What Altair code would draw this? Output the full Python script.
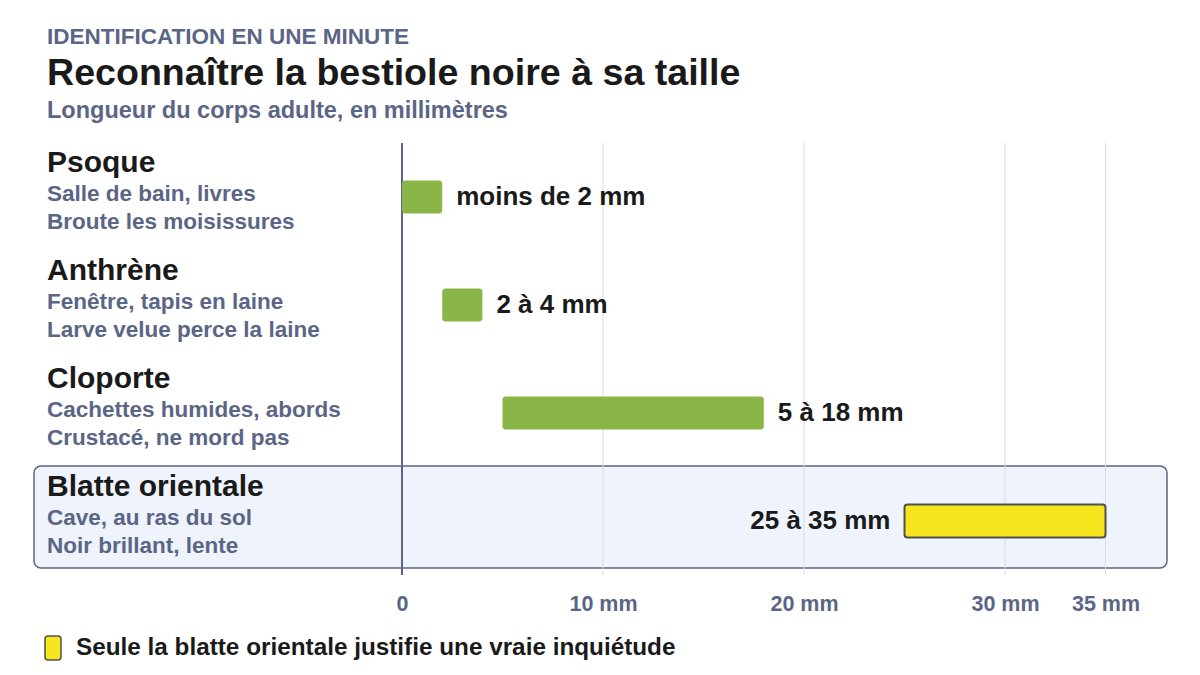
import altair as alt
import pandas as pd

names = ["Psoque", "Anthrène", "Cloporte", "Blatte orientale"]
habitats = ["Salle de bain, livres", "Fenêtre, tapis en laine", "Cachettes humides, abords", "Cave, au ras du sol"]
notes = ["Broute les moisissures", "Larve velue perce la laine", "Crustacé, ne mord pas", "Noir brillant, lente"]
min_mm = [0, 2, 5, 25]
max_mm = [2, 4, 18, 35]
range_labels = ["moins de 2 mm", "2 à 4 mm", "5 à 18 mm", "25 à 35 mm"]
alert = [False, False, False, True]
tick_values = [0, 10, 20, 30, 35]
grid_values = [10, 20, 30, 35]

kicker = "IDENTIFICATION EN UNE MINUTE"
title = "Reconnaître la bestiole noire à sa taille"
subtitle = "Longueur du corps adulte, en millimètres"
legend_text = "Seule la blatte orientale justifie une vraie inquiétude"

FONT = "Liberation Sans, Arial, Helvetica, sans-serif"
GRAY = "#5b6585"
INK = "#1a1a1a"
GREEN = "#8ab648"
YELLOW = "#f6e61d"

W, H = 765, 432
DMAX = W / 20.1

df = pd.DataFrame({
    "name": names, "habitat": habitats, "note": notes,
    "lo": min_mm, "hi": max_mm, "label": range_labels, "alert": alert,
})
grid_df = pd.DataFrame({"v": grid_values})
zero_df = pd.DataFrame({"v": [0]})
one = pd.DataFrame({"k": [0]})

xs = alt.Scale(domain=[0, DMAX], nice=False, zero=False)
ys = alt.Scale(domain=names, paddingInner=0, paddingOuter=0)
xaxis = alt.Axis(
    values=tick_values, labelExpr="datum.value == 0 ? '0' : datum.value + ' mm'",
    grid=False, domain=False, ticks=False, title=None,
    labelFont=FONT, labelFontSize=21.5, labelFontWeight="bold", labelColor=GRAY,
    labelPadding=18, labelFlush=False)


def xq(field):
    return alt.X(field, type="quantitative", scale=xs, axis=xaxis)


Y = alt.Y("name:N", scale=ys, axis=None, sort=names)

base = alt.Chart(df)

highlight = alt.Chart(one).mark_rect(
    fill="#eef3fc", stroke=GRAY, strokeWidth=1.5, cornerRadius=7
).encode(x=alt.value(-368), x2=alt.value(W), y=alt.value(323), y2=alt.value(425))

grid = alt.Chart(grid_df).mark_rule(color="#dcdcdc", strokeWidth=1).encode(
    x=xq("v"), y=alt.value(0), y2=alt.value(H))

zero = alt.Chart(zero_df).mark_rule(color=GRAY, strokeWidth=2).encode(
    x=xq("v"), y=alt.value(0), y2=alt.value(H))

bars = base.mark_bar(size=33, cornerRadius=3).encode(
    x=xq("lo"), x2="hi:Q", y=Y,
    color=alt.Color("alert:N", scale=alt.Scale(domain=[False, True], range=[GREEN, YELLOW]), legend=None),
    stroke=alt.Color("alert:N", scale=alt.Scale(domain=[False, True], range=[GREEN, "#505050"]), legend=None),
    strokeWidth=alt.condition("datum.alert", alt.value(2), alt.value(0)),
)

lab_right = base.transform_filter("!datum.alert").mark_text(
    align="left", baseline="middle", dx=14, font=FONT, fontSize=26, fontWeight="bold", color=INK
).encode(x=xq("hi"), y=Y, text="label:N")

lab_left = base.transform_filter("datum.alert").mark_text(
    align="right", baseline="middle", dx=-14, font=FONT, fontSize=26, fontWeight="bold", color=INK
).encode(x=xq("lo"), y=Y, text="label:N")

name_txt = base.mark_text(
    align="left", baseline="middle", dy=-34, font=FONT, fontSize=30, fontWeight="bold", color=INK
).encode(x=alt.value(-355), y=Y, text="name:N")

hab_txt = base.mark_text(
    align="left", baseline="middle", dy=-3, font=FONT, fontSize=22.5, fontWeight="bold", color=GRAY
).encode(x=alt.value(-355), y=Y, text="habitat:N")

note_txt = base.mark_text(
    align="left", baseline="middle", dy=25, font=FONT, fontSize=22.5, fontWeight="bold", color=GRAY
).encode(x=alt.value(-355), y=Y, text="note:N")

kick_txt = alt.Chart(pd.DataFrame({"t": [kicker]})).mark_text(
    align="left", baseline="middle", font=FONT, fontSize=22.5, fontWeight="bold", color=GRAY
).encode(x=alt.value(-355), y=alt.value(-106), text="t:N")
title_txt = alt.Chart(pd.DataFrame({"t": [title]})).mark_text(
    align="left", baseline="middle", font=FONT, fontSize=37.6, fontWeight="bold", color=INK
).encode(x=alt.value(-355), y=alt.value(-69), text="t:N")
sub_txt = alt.Chart(pd.DataFrame({"t": [subtitle]})).mark_text(
    align="left", baseline="middle", font=FONT, fontSize=23.5, fontWeight="bold", color=GRAY
).encode(x=alt.value(-355), y=alt.value(-32), text="t:N")

swatch = alt.Chart(one).mark_rect(
    fill=YELLOW, stroke="#505050", strokeWidth=1.5, cornerRadius=3
).encode(x=alt.value(-357), x2=alt.value(-341), y=alt.value(493), y2=alt.value(517))
leg_txt = alt.Chart(pd.DataFrame({"t": [legend_text]})).mark_text(
    align="left", baseline="middle", font=FONT, fontSize=24.3, fontWeight="bold", color=INK
).encode(x=alt.value(-326), y=alt.value(505), text="t:N")

chart = alt.layer(
    highlight, grid, zero, bars, lab_right, lab_left, name_txt, hab_txt, note_txt,
    kick_txt, title_txt, sub_txt, swatch, leg_txt
).resolve_scale(color="independent", stroke="independent").properties(
    width=W, height=H,
    autosize=alt.AutoSizeParams(type="none"),
    padding={"left": 394, "top": 135, "right": 25, "bottom": 90},
    background="white",
).configure_view(stroke=None)

chart.save("out.html", embed_options={"renderer": "svg", "actions": False})
